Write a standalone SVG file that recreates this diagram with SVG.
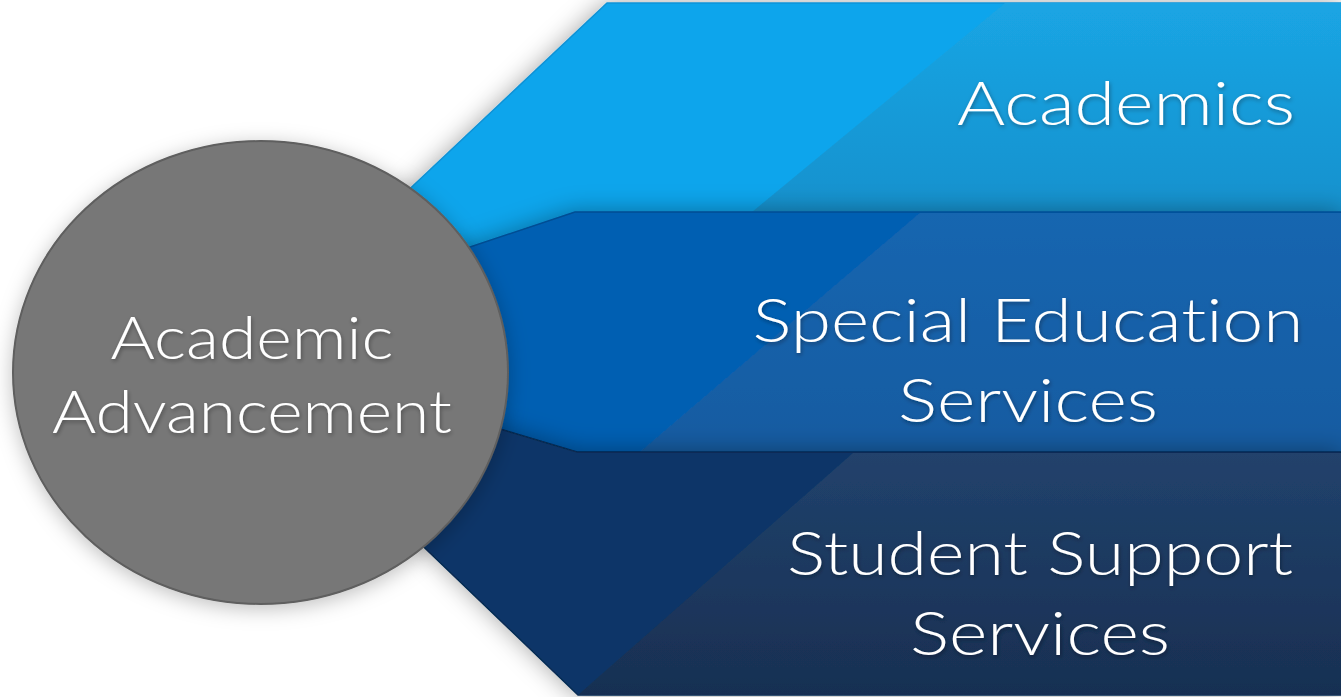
<svg xmlns="http://www.w3.org/2000/svg" width="1341" height="697" viewBox="0 0 1341 697">
  <defs>
    <filter id="bandShadow" x="-20%" y="-20%" width="140%" height="140%">
      <feDropShadow dx="0" dy="0" stdDeviation="12" flood-color="#000" flood-opacity="0.35"/>
    </filter>
    <filter id="circleShadow" x="-20%" y="-20%" width="140%" height="140%">
      <feDropShadow dx="0" dy="4" stdDeviation="10" flood-color="#000" flood-opacity="0.25"/>
    </filter>
    <filter id="textShadow" x="-10%" y="-30%" width="120%" height="160%">
      <feDropShadow dx="1" dy="2" stdDeviation="2" flood-color="#000" flood-opacity="0.35"/>
    </filter>
    <linearGradient id="gTopR" x1="0" y1="0" x2="0" y2="1">
      <stop offset="0" stop-color="#1ca5e3"/>
      <stop offset="1" stop-color="#168fca"/>
    </linearGradient>
    <linearGradient id="gMidR" x1="0" y1="0" x2="0" y2="1">
      <stop offset="0" stop-color="#1866b0"/>
      <stop offset="1" stop-color="#135ba1"/>
    </linearGradient>
    <linearGradient id="gBotR" x1="0" y1="0" x2="0" y2="1">
      <stop offset="0" stop-color="#21426c"/>
      <stop offset="1" stop-color="#182f52"/>
    </linearGradient>
  </defs>
  <style>
    .label { font-family: "Lato", "Open Sans", "Liberation Sans", sans-serif; font-weight: 300; fill: #ffffff; text-anchor: middle; font-variant-ligatures: none; font-feature-settings: "liga" 0, "clig" 0; }
    .band-edge { stroke-width: 1.5; stroke-linejoin: round; }
  </style>
  <rect x="0" y="0" width="1341" height="697" fill="#ffffff"/>

  <g id="node-academics" filter="url(#bandShadow)">
    <polygon class="band-edge" points="607,3 1341,3 1341,212 575,212 470,247 330,294 330,264" fill="#0aa5ec" stroke="#0a92d6"/>
    <polygon points="752,212 1005,3 1341,3 1341,212" fill="url(#gTopR)" opacity="0.9"/>
    <text class="label" x="1126" y="125" font-size="62" textLength="338" lengthAdjust="spacingAndGlyphs" filter="url(#textShadow)">Academics</text>
  </g>

  <g id="node-special-education" filter="url(#bandShadow)">
    <polygon class="band-edge" points="575,212 1341,212 1341,452 577,452 500,429 330,378 330,294 470,247" fill="#055fb2" stroke="#044e94"/>
    <polygon points="640,452 920,213 1341,213 1341,452" fill="url(#gMidR)"/>
    <text class="label" x="1028" y="342" font-size="62" textLength="551" lengthAdjust="spacingAndGlyphs" filter="url(#textShadow)">Special Education</text>
    <text class="label" x="1028" y="422" font-size="62" textLength="260" lengthAdjust="spacingAndGlyphs" filter="url(#textShadow)">Services</text>
  </g>

  <g id="node-student-support" filter="url(#bandShadow)">
    <polygon class="band-edge" points="577,452 1341,452 1341,695 578,695 330,457 330,378 500,429" fill="#0a3667" stroke="#072a52"/>
    <polygon points="578,695 853,453 1341,453 1341,695" fill="url(#gBotR)"/>
    <text class="label" x="1040" y="575" font-size="62" textLength="506" lengthAdjust="spacingAndGlyphs" filter="url(#textShadow)">Student Support</text>
    <text class="label" x="1040" y="655" font-size="62" textLength="260" lengthAdjust="spacingAndGlyphs" filter="url(#textShadow)">Services</text>
  </g>

  <g id="connectors"></g>

  <g id="node-academic-advancement">
    <ellipse cx="260.5" cy="372.5" rx="247.5" ry="231.5" fill="#777777" stroke="#5e5e5e" stroke-width="2" filter="url(#circleShadow)"/>
    <text class="label" x="252" y="359" font-size="60" textLength="283" lengthAdjust="spacingAndGlyphs" filter="url(#textShadow)">Academic</text>
    <text class="label" x="252" y="433" font-size="60" textLength="400" lengthAdjust="spacingAndGlyphs" filter="url(#textShadow)">Advancement</text>
  </g>
</svg>
